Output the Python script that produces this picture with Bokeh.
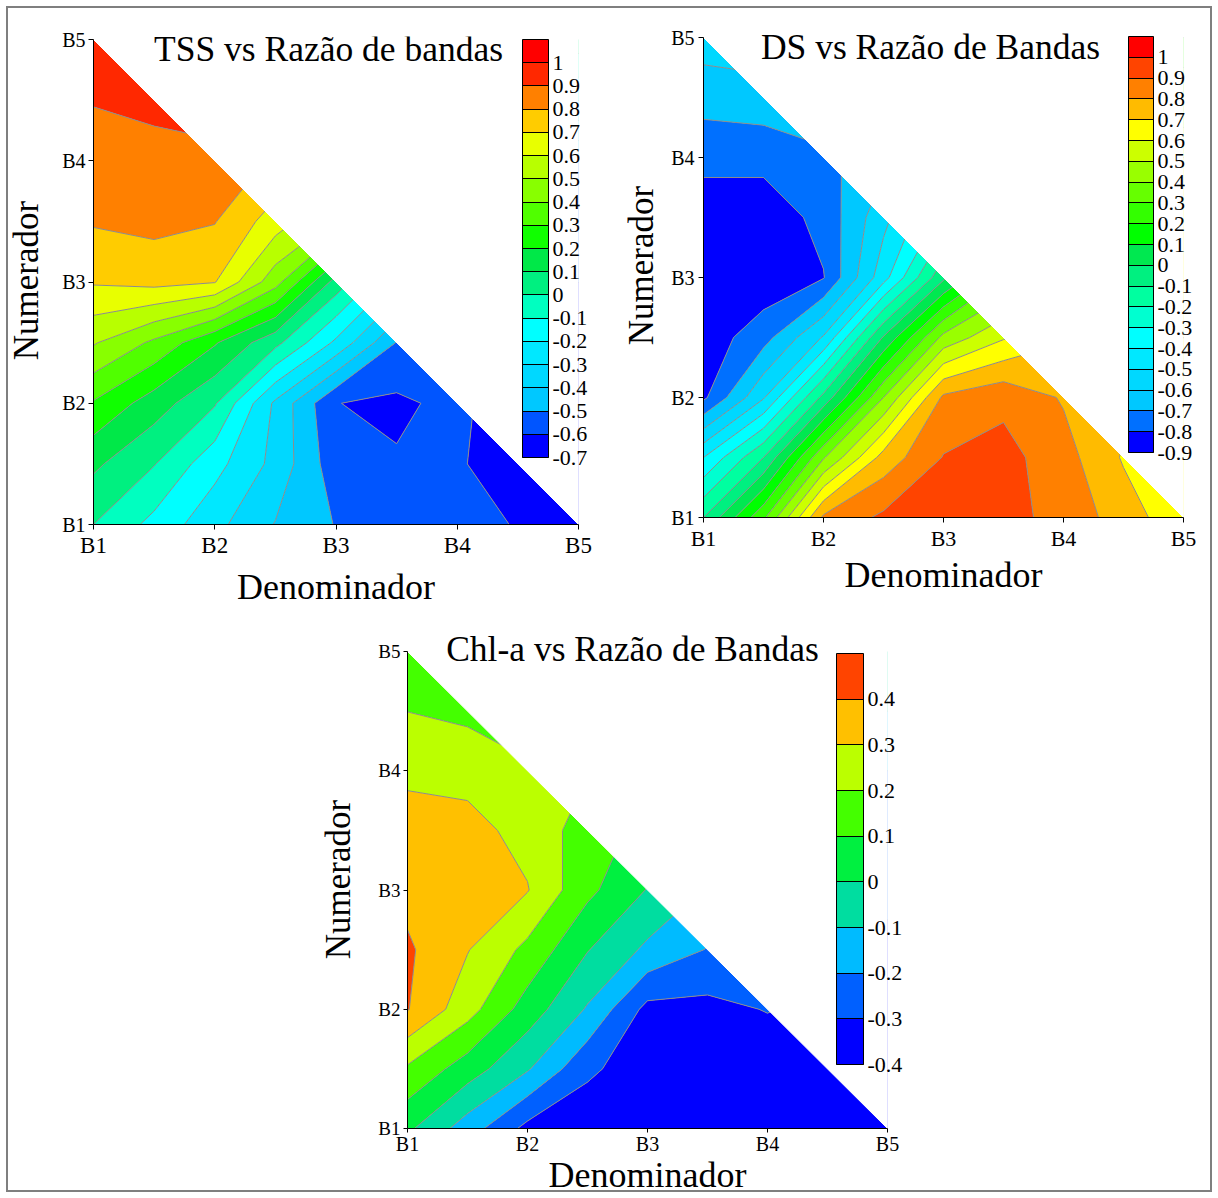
import numpy as np
from bokeh.plotting import figure
from bokeh.models import (Range1d, FixedTicker, ColorBar, LinearColorMapper,
                          Label, CustomJSTickFormatter, Spacer)
from bokeh.layouts import row, column
from bokeh.embed import file_html
from bokeh.resources import INLINE

# ---------------- data ----------------
BANDS = ["B1", "B2", "B3", "B4", "B5"]
BAND_POS = [1, 2, 3, 4, 5]
# sample positions (band units) of the correlation grids, for both axes
SAMPLES = [1.0, 1.5, 2.0, 2.5, 3.0, 3.5, 4.0, 4.5, 5.0]

X_LABEL = "Denominador"
Y_LABEL = "Numerador"

TSS_TITLE = "TSS vs Razão de bandas"
TSS_LEVELS = [-0.7, -0.6, -0.5, -0.4, -0.3, -0.2, -0.1, 0.0, 0.1, 0.2,
              0.3, 0.4, 0.5, 0.6, 0.7, 0.8, 0.9, 1.0, 1.1]
TSS_COLORS = ["#0000FF", "#0055FF", "#00C8FF", "#00D8FF", "#00E8FF", "#00FFFF",
              "#00FFC0", "#00F080", "#00E848", "#10FF00", "#50FF00", "#88FF00",
              "#B8FF00", "#E8FF00", "#FFCC00", "#FF8000", "#FF2800", "#FF0000"]
# rows: numerator (B1 -> B5), columns: denominator (B1 -> B5)
TSS_Z = [
    [0.00, -0.13, -0.27, -0.405, -0.505, -0.54, -0.57, -0.605, -0.65],
    [0.12, 0.005, -0.165, -0.33, -0.56, -0.59, -0.595, -0.625, -0.66],
    [0.29, 0.15, 0.01, -0.32, -0.598, -0.62, -0.57, -0.68, -0.68],
    [0.51, 0.38, 0.21, 0.03, -0.22, -0.505, -0.55, -0.60, -0.62],
    [0.71, 0.73, 0.705, 0.44, 0.06, -0.22, -0.50, -0.55, -0.60],
    [0.81, 0.83, 0.805, 0.65, 0.49, 0.06, -0.20, -0.50, -0.55],
    [0.86, 0.86, 0.85, 0.79, 0.65, 0.35, 0.06, -0.20, -0.50],
    [0.905, 0.93, 0.99, 0.85, 0.75, 0.65, 0.35, 0.06, -0.20],
    [0.96, 0.945, 0.93, 0.89, 0.85, 0.75, 0.65, 0.35, 0.06],
]

DS_TITLE = "DS vs Razão de Bandas"
DS_LEVELS = [-0.9, -0.8, -0.7, -0.6, -0.5, -0.4, -0.3, -0.2, -0.1, 0.0, 0.1,
             0.2, 0.3, 0.4, 0.5, 0.6, 0.7, 0.8, 0.9, 1.0, 1.1]
DS_COLORS = ["#0000FF", "#0070FF", "#00C8FF", "#00D8FF", "#00E8FF", "#00FFFF",
             "#00FFD0", "#00FFA0", "#00F080", "#00E850", "#00FF00", "#33FF00",
             "#66FF00", "#99FF00", "#CCFF00", "#FFFF00", "#FFBB00", "#FF8000",
             "#FF4400", "#FF0000"]
DS_Z = [
    [-0.10, 0.28, 0.82, 0.92, 0.95, 0.93, 0.87, 0.75, 0.63],
    [-0.40, -0.10, 0.39, 0.74, 0.905, 0.935, 0.84, 0.69, 0.60],
    [-0.82, -0.51, -0.07, 0.40, 0.82, 0.875, 0.79, 0.72, 0.65],
    [-0.86, -0.74, -0.49, 0.01, 0.43, 0.59, 0.69, 0.72, 0.70],
    [-0.87, -0.87, -0.805, -0.44, -0.02, 0.30, 0.60, 0.70, 0.70],
    [-0.86, -0.86, -0.77, -0.53, -0.27, 0.10, 0.40, 0.60, 0.70],
    [-0.77, -0.77, -0.73, -0.63, -0.40, -0.10, 0.20, 0.40, 0.60],
    [-0.66, -0.64, -0.58, -0.66, -0.50, -0.30, 0.00, 0.20, 0.40],
    [-0.55, -0.54, -0.65, -0.66, -0.60, -0.40, -0.20, 0.00, 0.20],
]

CHL_TITLE = "Chl-a vs Razão de Bandas"
CHL_LEVELS = [-0.4, -0.3, -0.2, -0.1, 0.0, 0.1, 0.2, 0.3, 0.4, 0.5]
CHL_COLORS = ["#0000FF", "#0060FF", "#00BBFF", "#00DDA0", "#00F040",
              "#44FF00", "#BBFF00", "#FFC000", "#FF4400"]
CHL_Z = [
    [0.02, -0.15, -0.33, -0.37, -0.38, -0.39, -0.39, -0.38, -0.37],
    [0.185, 0.05, -0.09, -0.28, -0.36, -0.37, -0.37, -0.36, -0.365],
    [0.405, 0.24, 0.055, -0.11, -0.33, -0.33, -0.295, -0.33, -0.35],
    [0.415, 0.305, 0.175, 0.005, -0.12, -0.205, -0.25, -0.29, -0.32],
    [0.37, 0.35, 0.305, 0.125, -0.005, -0.11, -0.20, -0.25, -0.28],
    [0.34, 0.33, 0.27, 0.15, 0.07, -0.02, -0.10, -0.20, -0.25],
    [0.28, 0.27, 0.24, 0.205, 0.15, 0.05, -0.02, -0.10, -0.20],
    [0.199, 0.175, 0.04, 0.20, 0.15, 0.10, 0.05, -0.02, -0.10],
    [0.16, 0.175, 0.19, 0.20, 0.15, 0.10, 0.05, 0.00, -0.05],
]

# ---------------- styling ----------------
FONT = "Liberation Serif"
CONTOUR_LINE = "#8c8c8c"

LABEL_FMT = """
const v = Math.round(tick * 10) / 10;
return Math.abs(v) < 1e-9 ? "0" : String(v);
"""


def make_panel(title, z, levels, colors, cfg):
    lo, hi = BAND_POS[0], BAND_POS[-1]
    # frame is extended a little above the top band so the title inside it is not clipped
    ext_px = cfg["ext"]
    top_border = cfg["bt"] - ext_px
    core_h = cfg["h"] - cfg["bt"] - cfg["bb"]
    y_end = hi + (hi - lo) * ext_px / core_h
    p = figure(width=cfg["w"], height=cfg["h"], title=None,
               x_range=Range1d(lo, hi), y_range=Range1d(lo, y_end),
               output_backend="svg", toolbar_location=None,
               min_border_left=cfg["bl"], min_border_right=cfg["br"],
               min_border_top=top_border, min_border_bottom=cfg["bb"])
    p.border_fill_color = None
    p.outline_line_color = None
    p.xgrid.visible = False
    p.ygrid.visible = False

    p.contour(x=SAMPLES, y=SAMPLES, z=np.array(z), levels=levels,
              fill_color=colors, line_color=CONTOUR_LINE, line_width=1)

    # white out the part above the diagonal (numerator + denominator beyond range)
    p.patch(x=[lo, hi, hi + 1, hi + 1, lo], y=[hi, lo, lo, hi + 2, hi + 2],
            fill_color="white", line_color="white", line_width=1)

    overrides = {pos: name for pos, name in zip(BAND_POS, BANDS)}
    for ax, fs, tick, stand, lab_stand, lab_fs, lab in (
            (p.xaxis, cfg["xfs"], cfg["xt"], cfg["xs"], cfg["xls"], cfg["xlfs"], X_LABEL),
            (p.yaxis, cfg["yfs"], cfg["yt"], cfg["ys"], cfg["yls"], cfg["ylfs"], Y_LABEL)):
        ax.bounds = (lo, hi)
        ax.ticker = FixedTicker(ticks=BAND_POS)
        ax.major_label_overrides = overrides
        ax.major_label_text_font = FONT
        ax.major_label_text_font_size = fs
        ax.major_label_text_color = "black"
        ax.major_tick_in = 0
        ax.major_tick_out = tick
        ax.minor_tick_line_color = None
        ax.major_label_standoff = stand
        ax.axis_label = lab
        ax.axis_label_text_font = FONT
        ax.axis_label_text_font_size = lab_fs
        ax.axis_label_text_font_style = "normal"
        ax.axis_label_text_color = "black"
        ax.axis_label_standoff = lab_stand
        ax.axis_line_color = "black"
        ax.major_tick_line_color = "black"

    p.add_layout(Label(x=cfg["tx"], y=cfg["ty"], x_units="screen", y_units="screen",
                       text=title, text_align="center", text_baseline="middle",
                       text_font=FONT, text_font_size=cfg["tfs"], text_color="black"))

    mapper = LinearColorMapper(palette=colors, low=levels[0], high=levels[-1])
    cb = ColorBar(color_mapper=mapper, orientation="vertical",
                  location=(cfg["cx"], cfg["cy"]), width=cfg["cw"], height=cfg["ch"],
                  ticker=FixedTicker(ticks=levels[:-1]),
                  formatter=CustomJSTickFormatter(code=LABEL_FMT),
                  padding=0, label_standoff=4,
                  major_tick_in=cfg["cw"], major_tick_out=0,
                  major_tick_line_color="black", major_tick_line_width=1,
                  minor_tick_line_color=None,
                  bar_line_color="black", bar_line_width=1,
                  background_fill_color=None, border_line_color=None,
                  major_label_text_font=FONT, major_label_text_font_size=cfg["cfs"],
                  major_label_text_color="black")
    p.add_layout(cb)
    return p


p1 = make_panel(TSS_TITLE, TSS_Z, TSS_LEVELS, TSS_COLORS, dict(
    w=609, h=610, bl=93, br=31, bt=39, bb=86, ext=3,
    xfs="23px", yfs="20px", xlfs="36px", ylfs="35px",
    xt=5, xs=3, xls=6, yt=5, ys=3, yls=13,
    tx=235, ty=476, tfs="35.5px",
    cx=429, cy=67, cw=26, ch=418, cfs="22px"))

p2 = make_panel(DS_TITLE, DS_Z, DS_LEVELS, DS_COLORS, dict(
    w=609, h=610, bl=94, br=35, bt=37, bb=93, ext=24,
    xfs="22px", yfs="20px", xlfs="36px", ylfs="35px",
    xt=5, xs=3, xls=1, yt=5, ys=4, yls=7,
    tx=227, ty=471, tfs="35.5px",
    cx=425, cy=65, cw=25, ch=416, cfs="22px"))

p3 = make_panel(CHL_TITLE, CHL_Z, CHL_LEVELS, CHL_COLORS, dict(
    w=905, h=588, bl=94, br=331, bt=41, bb=70, ext=21,
    xfs="20px", yfs="19px", xlfs="36px", ylfs="35px",
    xt=4, xs=0, xls=-3, yt=4, ys=3, yls=17,
    tx=225, ty=480, tfs="35.5px",
    cx=429, cy=64, cw=27, ch=411, cfs="22px"))

layout = column(row(column(p1), column(p2)),
                row(Spacer(width=313, height=588), column(p3)),
                styles={"background-color": "#ffffff",
                        "box-shadow": "inset 0 0 0 6px #ffffff, inset 0 0 0 8px #7f7f7f"})

open("out.html", "w").write(file_html(layout, INLINE))
